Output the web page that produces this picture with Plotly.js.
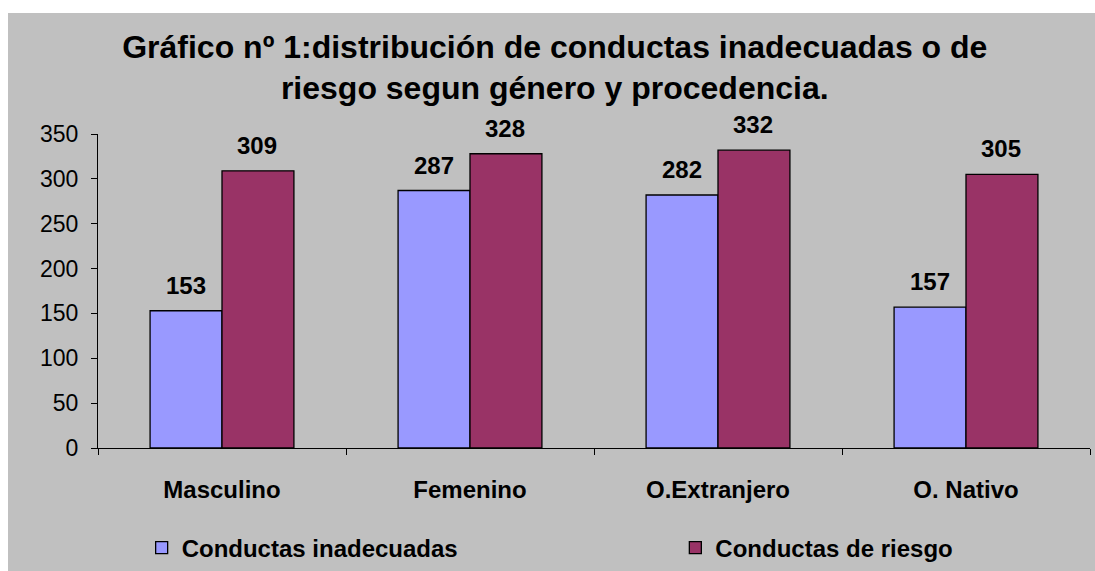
<!DOCTYPE html>
<html>
<head>
<meta charset="utf-8">
<script src="https://cdn.plot.ly/plotly-3.0.1.min.js"></script>
<style>
html,body{margin:0;padding:0;background:#ffffff;}
#chart{position:absolute;left:8px;top:13px;width:1087px;height:558px;}
</style>
</head>
<body>
<div id="chart"></div>
<script>
const categories = ["Masculino", "Femenino", "O.Extranjero", "O. Nativo"];
const seriesNames = ["Conductas inadecuadas", "Conductas de riesgo"];
const inadecuadas = [153, 287, 282, 157];
const riesgo = [309, 328, 332, 305];
const yTicks = [0, 50, 100, 150, 200, 250, 300, 350];

const colors = ["#9999ff", "#993366"];
const allSeries = [inadecuadas, riesgo];
const FONT = "Liberation Sans, Arial, sans-serif";

const traces = allSeries.map((vals, i) => ({
  type: "bar",
  name: seriesNames[i],
  x: categories,
  y: vals,
  legend: i === 0 ? "legend" : "legend2",
  marker: {color: colors[i], line: {color: "#000000", width: 1.3}},
  hoverinfo: "x+y"
}));

const annotations = [];
allSeries.forEach((vals, i) => {
  vals.forEach((v, j) => {
    annotations.push({
      x: categories[j], y: v, xref: "x", yref: "y",
      text: "<b>" + v + "</b>", showarrow: false,
      xanchor: "center", yanchor: "bottom",
      xshift: i === 0 ? -36 : 35, yshift: 10,
      font: {family: FONT, size: 24, color: "#000"}
    });
  });
});

const legendCommon = {
  orientation: "h",
  yref: "container", yanchor: "middle", y: 0.041,
  xanchor: "left",
  bgcolor: "rgba(0,0,0,0)",
  font: {family: FONT, size: 24, color: "#000", weight: "bold"}
};

const layout = {
  width: 1087, height: 558,
  paper_bgcolor: "#c0c0c0",
  plot_bgcolor: "#c0c0c0",
  margin: {l: 90, r: 5, t: 121, b: 123, autoexpand: false},
  title: {
    text: "<b>Gráfico nº 1:distribución de conductas inadecuadas o de<br>riesgo segun género y procedencia.</b>",
    x: 0.503, xanchor: "center", xref: "container",
    y: 0.92, yanchor: "middle", yref: "container",
    font: {family: FONT, size: 32, color: "#000"}
  },
  barmode: "group",
  bargap: 0.42,
  bargroupgap: 0,
  xaxis: {
    type: "category",
    showline: true, linecolor: "#000", linewidth: 1,
    ticks: "outside", tickson: "boundaries", ticklen: 6, tickcolor: "#000",
    ticklabelstandoff: 20,
    tickfont: {family: FONT, size: 24, color: "#000", weight: "bold"},
    showgrid: false, zeroline: false
  },
  yaxis: {
    range: [0, 350],
    tickvals: yTicks,
    showline: true, linecolor: "#000", linewidth: 1,
    ticks: "outside", ticklen: 6, tickcolor: "#000",
    ticklabelstandoff: 8,
    tickfont: {family: FONT, size: 23, color: "#000"},
    showgrid: false, zeroline: false
  },
  showlegend: true,
  legend: Object.assign({}, legendCommon, {x: 0.044}),
  legend2: Object.assign({}, legendCommon, {x: 0.582}),
  annotations: annotations
};

Plotly.newPlot("chart", traces, layout, {displayModeBar: false, staticPlot: true});
</script>
</body>
</html>
